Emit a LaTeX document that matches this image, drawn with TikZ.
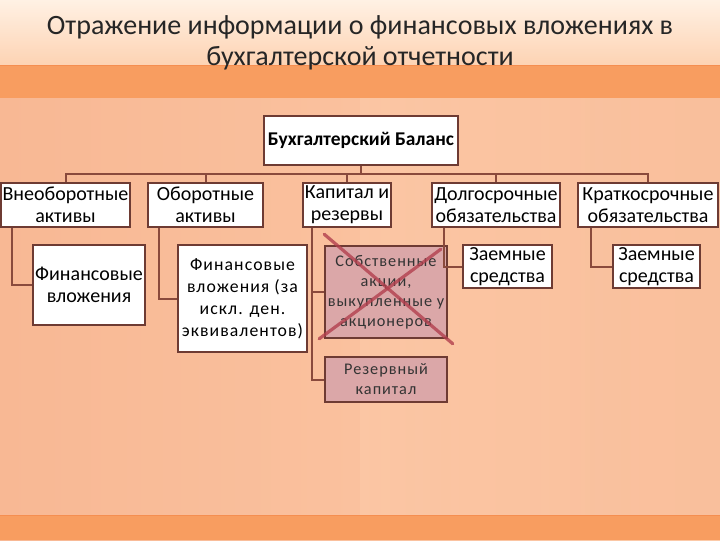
\documentclass[tikz,border=0pt]{standalone}
\usepackage{fontspec}
\setmainfont{Carlito}
\newfontfamily\spacedfont[LetterSpace=6]{Carlito}
\usetikzlibrary{calc}
\definecolor{bgA}{HTML}{F8B894}
\definecolor{bgB}{HTML}{FCCAA8}
\definecolor{titleTop}{HTML}{FFF1E4}
\definecolor{titleBot}{HTML}{FDD3B3}
\definecolor{bandC}{HTML}{F89D60}
\definecolor{bandD}{HTML}{F58E50}
\definecolor{boxline}{HTML}{6E3B33}
\definecolor{connC}{HTML}{8A4A3C}
\definecolor{pinkfill}{HTML}{DBA7A8}
\definecolor{crossC}{HTML}{B2404E}
\tikzset{
  box/.style={draw=boxline, line width=1.2pt, fill=white, inner sep=0pt, align=center, text=black,
    font=\fontsize{15}{16.5}\selectfont},
  pinkbox/.style={box, fill=pinkfill},
  conn/.style={draw=connC, line width=1.5pt},
  crossline/.style={draw=crossC, line width=2.4pt, opacity=0.8, line cap=round},
}
\begin{document}
\begin{tikzpicture}[x=0.75pt,y=-0.75pt]
\useasboundingbox (0,0) rectangle (720,540);
% background
\shade[left color=bgA, right color=bgB] (0,0) rectangle (720,540);
\shade[left color=bgB, right color=bgA, opacity=0.6] (360,98) rectangle (720,515);
\shade[top color=titleTop, bottom color=titleBot] (0,0) rectangle (720,65);
\fill[bandC] (0,65) rectangle (720,98);
\draw[bandD, line width=1pt] (0,65.5) -- (720,65.5);
\fill[bandC] (0,515) rectangle (720,540);
\draw[bandD, line width=1pt] (0,515.5) -- (720,515.5);
% title
\node[font=\fontsize{21}{23.5}\selectfont, align=center, text=black!85] (title) at (360,43)
  {Отражение информации о финансовых вложениях в\\бухгалтерской отчетности};
% boxes
\node[box, minimum width=145.5pt, minimum height=36.75pt, font=\bfseries\fontsize{14.6}{16}\selectfont] (bal) at (361,140.5) {Бухгалтерский Баланс};
\node[box, minimum width=96.75pt, minimum height=33pt] (vneob) at (65.5,205) {Внеоборотные\\активы};
\node[box, minimum width=86.25pt, minimum height=33pt] (obor) at (205.5,205) {Оборотные\\активы};
\node[box, minimum width=66pt, minimum height=33pt] (kap) at (347,205) {Капитал и\\резервы};
\node[box, minimum width=96pt, minimum height=33pt] (dolg) at (496,205) {Долгосрочные\\обязательства};
\node[box, minimum width=105pt, minimum height=33pt] (krat) at (648,205) {Краткосрочные\\обязательства};
\node[box, minimum width=84pt, minimum height=60pt] (fin1) at (89,285) {Финансовые\\вложения};
\node[box, minimum width=96.75pt, minimum height=80.25pt, font=\spacedfont\fontsize{13.3}{16.5}\selectfont] (fin2) at (242.5,298.5) {Финансовые\\вложения (за\\искл. ден.\\эквивалентов)};
\node[pinkbox, minimum width=91.5pt, minimum height=69pt, text=black!80, font=\spacedfont\fontsize{12.2}{15}\selectfont] (sobst) at (386,292) {Собственные\\акции,\\выкупленные у\\акционеров};
\node[pinkbox, minimum width=91.5pt, minimum height=33.75pt, text=black!80, font=\spacedfont\fontsize{12.2}{15}\selectfont] (rez) at (386,379.5) {Резервный\\капитал};
\node[box, minimum width=66.75pt, minimum height=32.25pt] (zaem1) at (507.5,266.5) {Заемные\\средства};
\node[box, minimum width=65.25pt, minimum height=32.25pt] (zaem2) at (656.5,266.5) {Заемные\\средства};
% connectors
\coordinate (bus) at (0,174);
\draw[conn] (bal.south) -- (bal.south |- bus);
\draw[conn] (vneob.north) -- (vneob.north |- bus) -| (krat.north);
\draw[conn] (obor.north) -- (obor.north |- bus);
\draw[conn] (kap.north) -- (kap.north |- bus);
\draw[conn] (dolg.north) -- (dolg.north |- bus);
\draw[conn] ([xshift=9pt]vneob.south west) |- (fin1.west);
\draw[conn] ([xshift=9pt]obor.south west) |- (fin2.west);
\draw[conn] ([xshift=7.5pt]kap.south west) |- (rez.west);
\draw[conn] ([xshift=7.5pt]kap.south west |- sobst.west) -- (sobst.west);
\draw[conn] ([xshift=9.75pt]dolg.south west) |- (zaem1.west);
\draw[conn] ([xshift=10.5pt]krat.south west) |- (zaem2.west);
% cross
\draw[crossline] ([shift={(0,-11)}]sobst.north west) -- ([shift={(5,5)}]sobst.south east);
\draw[crossline] ([shift={(-7,4)}]sobst.north east) -- ([shift={(-5,0)}]sobst.south west);
\end{tikzpicture}
\end{document}
